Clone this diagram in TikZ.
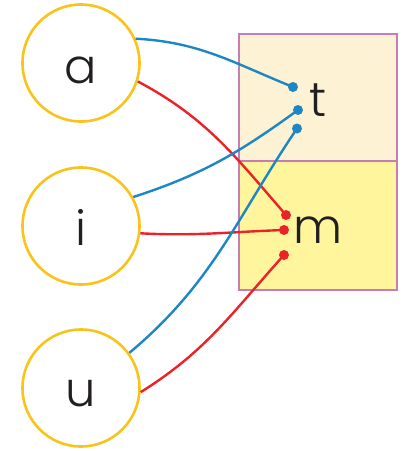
\documentclass[tikz,border=0pt]{standalone}
\usepackage{fontspec}
\setmainfont{Poppins}[UprightFont=* Light]
\definecolor{ring}{HTML}{F8C31A}
\definecolor{lblue}{HTML}{1C87C4}
\definecolor{lred}{HTML}{EC2229}
\definecolor{boxline}{HTML}{C47DB6}
\definecolor{topfill}{HTML}{FEF2D4}
\definecolor{botfill}{HTML}{FFF59C}
\definecolor{ink}{HTML}{231F20}
\tikzset{
  vowel/.style={circle,draw=ring,line width=2.6pt,minimum size=117pt,inner sep=0pt},
  lbl/.style={font=\fontsize{48}{48}\selectfont,text=ink,anchor=base,inner sep=0pt},
  bdot/.style={circle,fill=lblue,inner sep=0pt,minimum size=10pt},
  rdot/.style={circle,fill=lred,inner sep=0pt,minimum size=10pt},
  bl/.style={draw=lblue,line width=2.4pt},
  rl/.style={draw=lred,line width=2.4pt},
  cell/.style={draw=boxline,line width=1.6pt}
}
\begin{document}
\begin{tikzpicture}[x=1pt,y=1pt]
\useasboundingbox (0,0) rectangle (411,-451);
\filldraw[cell,fill=topfill] (239,-34) rectangle (397,-161);
\filldraw[cell,fill=botfill] (239,-161) rectangle (397,-290);
\node[vowel] (a) at (81,-63) {};
\node[vowel] (i) at (81,-226) {};
\node[vowel] (u) at (81,-388) {};
\node[lbl] (la) at (81,-83) {a};
\node[lbl] (li) at (81,-245) {i};
\node[lbl] (lu) at (81,-406) {u};
\node[lbl] (lt) at (318.5,-116) {t};
\node[lbl] (lm) at (318,-243) {m};
\node[bdot] (t1) at (293,-87) {};
\node[bdot] (t2) at (298,-110) {};
\node[bdot] (t3) at (297,-128.5) {};
\node[rdot] (m1) at (286,-215) {};
\node[rdot] (m2) at (284,-230) {};
\node[rdot] (m3) at (284,-255) {};
\draw[bl] (a.24) to[out=-3,in=158] (t1.center);
\draw[rl] (a.-18) to[out=-28,in=131] (m1.center);
\draw[bl] (i.29) to[out=18,in=216] (t2.center);
\draw[rl] (i.-7) to[out=-3,in=182] (m2.center);
\draw[bl] (u.36) to[out=40,in=236] (t3.center);
\draw[rl] (u.-4) to[out=32,in=228] (m3.center);
\end{tikzpicture}
\end{document}
